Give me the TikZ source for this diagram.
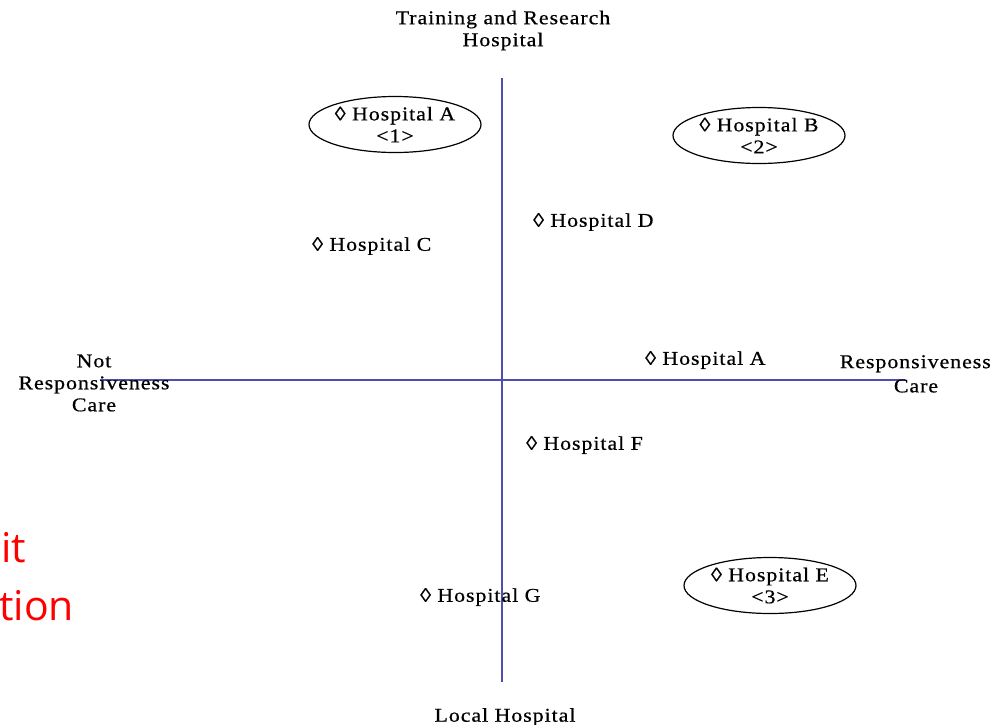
\documentclass[tikz,border=0pt]{standalone}
\usepackage{fontspec}
\setmainfont{Liberation Serif}[LetterSpace=5, FakeStretch=1.12, FakeBold=0.6]
\newfontfamily\slidefont{Open Sans}
\usetikzlibrary{shapes.geometric}
\definecolor{axisblue}{RGB}{78,78,172}
\definecolor{slidered}{RGB}{255,0,0}
\tikzset{
  lbl/.style={font=\fontsize{19.5}{22}\selectfont, align=center, inner sep=0pt},
  hosp/.style={lbl, anchor=west},
  group/.style={lbl, draw, ellipse, line width=1.2pt, minimum width=172pt, minimum height=56pt, inner sep=0pt},
  axis/.style={draw=axisblue, line width=1.5pt},
  redtext/.style={font=\slidefont\fontsize{41}{41}\selectfont, text=slidered, anchor=west, inner sep=0pt}
}
\begin{document}
\begin{tikzpicture}[x=1pt, y=-1pt]
  \fill[white] (0,0) rectangle (991,724);
  \useasboundingbox (0,0) rectangle (991,724);

  % axes
  \coordinate (ytop) at (502,78);
  \coordinate (ybot) at (502,682);
  \coordinate (xleft) at (100,380);
  \coordinate (xright) at (905,380);
  \draw[axis] (ytop) -- (ybot);
  \draw[axis] (xleft) -- (xright);

  % axis titles
  \node[lbl] (top) at (503,30.5) {Training and Research\\Hospital};
  \node[lbl] (bottom) at (505,717) {Local Hospital};
  \node[lbl] (left) at (94,383) {Not\\Responsiveness\\Care};
  \node[lbl, anchor=north east] (right) at (991,355) {Responsiveness};
  \node[lbl] (right2) at (916,386) {Care};

  % circled groups
  \node[group] (g1) at (395,124.5) {◊ Hospital A\\<1>};
  \node[group] (g2) at (759,135.5) {◊ Hospital B\\<2>};
  \node[group] (g3) at (770,585.5) {◊ Hospital E\\<3>};

  % single hospitals
  \node[hosp] (hd) at (533,222) {◊ Hospital D};
  \node[hosp] (hc) at (312,246) {◊ Hospital C};
  \node[hosp] (ha) at (645,360) {◊ Hospital A};
  \node[hosp] (hf) at (526,445) {◊ Hospital F};
  \node[hosp] (hg) at (420,597) {◊ Hospital G};

  % slide text running in from the left
  \begin{scope}
    \clip (0,0) rectangle (991,724);
    \node[redtext] (r1) at (1,548) {it};
    \node[redtext] (r2) at (-1,606) {tion};
  \end{scope}
\end{tikzpicture}
\end{document}
